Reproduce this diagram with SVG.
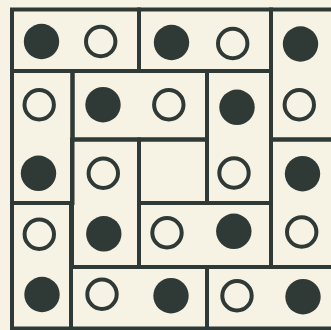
<svg xmlns="http://www.w3.org/2000/svg" width="331" height="330" viewBox="0 0 331 330">
<style>
.t{fill:none;stroke:#2f3a37;stroke-width:4;stroke-linejoin:miter}
.f{fill:#2f3a37}
.o{fill:none;stroke:#2f3a37;stroke-width:4}
</style>
<rect x="0" y="0" width="331" height="330" fill="#f6f3e4"/>
<g id="tile-r1-c12"><rect class="t" x="12" y="9.5" width="127" height="61.5"/><circle class="f" cx="41.5" cy="41.5" r="17.7"/><circle class="o" cx="100.7" cy="41.5" r="14.7"/></g>
<g id="tile-r1-c34"><rect class="t" x="139" y="9.5" width="132" height="61.5"/><circle class="f" cx="171.5" cy="42.5" r="17.7"/><circle class="o" cx="232.7" cy="43.5" r="14.7"/></g>
<g id="tile-c5-r12"><rect class="t" x="271" y="9.5" width="80" height="130"/><circle class="f" cx="300.5" cy="44" r="17.7"/><circle class="o" cx="299.3" cy="104.7" r="14.7"/></g>
<g id="tile-c1-r23"><rect class="t" x="12" y="71" width="60.5" height="132"/><circle class="o" cx="39.2" cy="104.7" r="14.7"/><circle class="f" cx="38.5" cy="173.3" r="17.7"/></g>
<g id="tile-r2-c23"><rect class="t" x="72.5" y="71" width="134.5" height="68.5"/><circle class="f" cx="103" cy="104.7" r="17.7"/><circle class="o" cx="168.8" cy="104.7" r="14.7"/></g>
<g id="tile-c4-r23"><rect class="t" x="207" y="71" width="64" height="132"/><circle class="f" cx="237" cy="107.3" r="17.7"/><circle class="o" cx="234" cy="173" r="14.7"/></g>
<g id="tile-c2-r34"><rect class="t" x="72" y="139.5" width="67" height="127.5"/><circle class="o" cx="103.3" cy="173.3" r="14.7"/><circle class="f" cx="103.8" cy="233.8" r="17.7"/></g>
<g id="tile-c3-r3"><rect class="t" x="139" y="139.5" width="68" height="63.5"/></g>
<g id="tile-c5-r34"><rect class="t" x="271" y="139.5" width="80" height="127.5"/><circle class="f" cx="302.5" cy="173.7" r="17.7"/><circle class="o" cx="301.7" cy="232" r="14.7"/></g>
<g id="tile-c1-r45"><rect class="t" x="12" y="203" width="59" height="125.5"/><circle class="o" cx="39.3" cy="234.3" r="14.7"/><circle class="f" cx="42" cy="294.5" r="17.7"/></g>
<g id="tile-r4-c34"><rect class="t" x="139" y="203" width="132" height="64"/><circle class="o" cx="167" cy="232.8" r="14.7"/><circle class="f" cx="233.8" cy="231.3" r="17.7"/></g>
<g id="tile-r5-c23"><rect class="t" x="71" y="267" width="136" height="61.5"/><circle class="o" cx="102" cy="294.3" r="14.7"/><circle class="f" cx="171" cy="295.7" r="17.7"/></g>
<g id="tile-r5-c45"><rect class="t" x="207" y="267" width="144" height="61.5"/><circle class="o" cx="237" cy="295.7" r="14.7"/><circle class="f" cx="303" cy="296.7" r="17.7"/></g>
</svg>
